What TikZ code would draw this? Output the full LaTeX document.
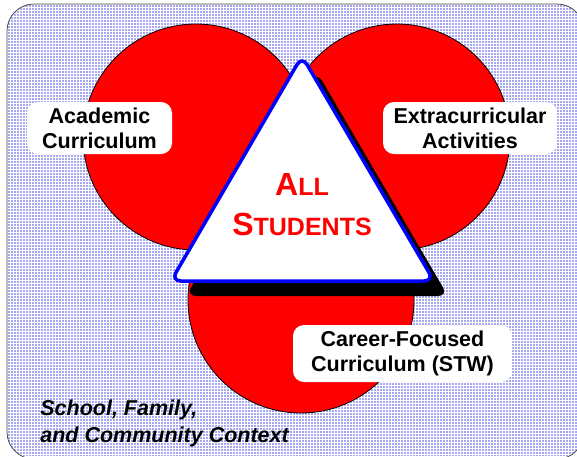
\documentclass[tikz,border=0pt]{standalone}
\usepackage{fontspec}
\setmainfont{Liberation Sans}
\definecolor{gridblue}{RGB}{168,168,242}
\definecolor{ringred}{RGB}{255,0,0}
\definecolor{edgeblue}{RGB}{0,0,255}
\definecolor{frame}{RGB}{70,70,70}

\tikzset{every picture/.style={line width=0.75pt}}
\tikzset{
  ring/.style={fill=ringred, draw=black, line width=0.8},
  labelbox/.style={fill=white, rounded corners=11pt, align=center, inner sep=0pt,
    font=\bfseries\fontsize{21.5}{25}\selectfont},
  bigcap/.style={font=\bfseries\fontsize{32}{32}\selectfont},
}
\newcommand{\smallcap}[1]{{\fontsize{25}{25}\selectfont #1}}

\begin{document}
\begin{tikzpicture}[x=1pt,y=1pt,yscale=-1,xscale=1]
\useasboundingbox (0,0) rectangle (577,456);

%Rounded Rect [background, gridded]
\begin{scope}
\clip [rounded corners=27] (7,4) rectangle (584,459);
\fill [gridblue] (0,0) rectangle (577,456);
\foreach \gx in {1,4,...,577} \draw [white, line width=1] (\gx,0) -- (\gx,456);
\foreach \gy in {1,4,...,456} \draw [white, line width=1] (0,\gy) -- (577,\gy);
\end{scope}
\draw [frame, rounded corners=27] (7,4) rectangle (584,459);

%Shape: Circles
\draw [ring] (196,137) circle (113);
\draw [ring] (397,137) circle (113);
\draw [ring] (301,300) circle (113);

%Shape: Triangle shadow
\fill [black, rounded corners=10] (317,72) -- (448,296) -- (186,296) -- cycle;
%Shape: Triangle
\draw [edgeblue, fill=white, line width=3.5, rounded corners=10] (302,56) -- (434,281) -- (171,281) -- cycle;

% Text Node
\node [text=ringred, anchor=base, inner sep=0pt, bigcap] (allword) at (302,195) {A\smallcap{LL}};
% Text Node
\node [text=ringred, anchor=base, inner sep=0pt, bigcap] (studentsword) at (302,235) {S\smallcap{TUDENTS}};

% Text Node
\node [labelbox, minimum width=145pt, minimum height=52pt] (academic) at (99.5,128) {Academic\\Curriculum};
% Text Node
\node [labelbox, minimum width=174pt, minimum height=52pt] (extra) at (470,128) {Extracurricular\\Activities};
% Text Node
\node [labelbox, minimum width=219pt, minimum height=57pt] (career) at (402.5,353.5) {Career-Focused\\Curriculum (STW)};

% Text Node
\node [anchor=base west, inner sep=0pt, align=left, font=\bfseries\itshape\fontsize{21.5}{27}\selectfont] (context) at (40,442) {School, Family,\\and Community Context};
\end{tikzpicture}
\end{document}
